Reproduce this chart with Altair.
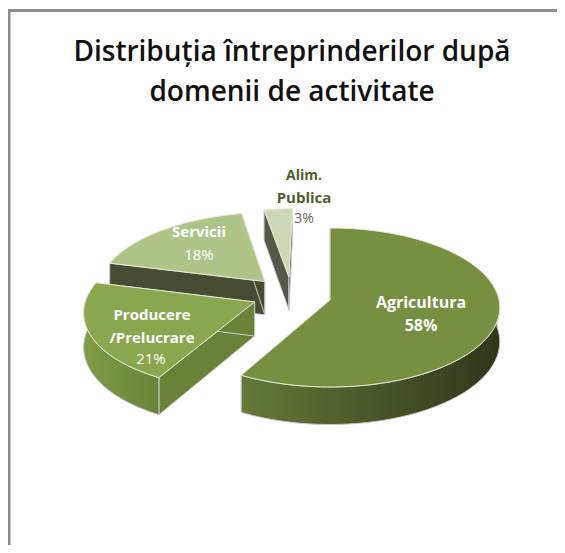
import math
import altair as alt
import pandas as pd

# values
categories = ["Agricultura", "Producere /Prelucrare", "Servicii", "Alim. Publica"]
shares = [58, 21, 18, 3]

# world offset of each exploded slice (in pie radii)
explode_u = [0.0, -0.445, -0.395, -0.25]
explode_v = [0.0, -0.025, 0.24, 0.30]

# colours
top_fill = ["#768f41", "#8aa74f", "#aec488", "#ccd8b5"]
wall_left = ["#65793a", "#7f9c46", "#454c30", "#55594a"]
wall_right = ["#2f361a", "#6a8238", "#454c30", "#55594a"]

# pie geometry in the picture
CX, CY, R, RE, K, H = 330, 300, 169, 78.8, 0.094, 34


def proj(u, v, down=0.0):
    s = 1 / (1 + K * v)
    return CX + R * u * s, CY - RE * v * s + down * s


def arc(a0, a1, ou, ov, down=0.0):
    n = max(4, int((a1 - a0) / 2))
    pts = []
    for i in range(n + 1):
        t = math.radians(a0 + (a1 - a0) * i / n)
        pts.append(proj(ou + math.sin(t), ov + math.cos(t), down))
    return pts


XS = alt.Scale(domain=[8, 557], range=[0, 549], nice=False, zero=False)
YS = alt.Scale(domain=[8, 545], range=[0, 537], nice=False, zero=False)


def poly(pts, fill, stroke=None, sw=0):
    df = pd.DataFrame({"x": [p[0] for p in pts], "y": [p[1] for p in pts], "i": range(len(pts))})
    kw = {"strokeWidth": sw, "stroke": stroke if stroke else "transparent"}
    return (
        alt.Chart(df)
        .mark_line(filled=True, fill=fill, interpolate="linear-closed", **kw)
        .encode(
            x=alt.X("x:Q", scale=XS, axis=None),
            y=alt.Y("y:Q", scale=YS, axis=None),
            order="i:Q",
        )
    )


def grad(c0, c1):
    return alt.Gradient(
        gradient="linear", x1=0, x2=1, y1=0, y2=0,
        stops=[alt.GradientStop(offset=0, color=c0), alt.GradientStop(offset=1, color=c1)],
    )


# slice angles from the shares
total = sum(shares)
angles = []
a = 0.0
for s in shares:
    angles.append((a, a + 360 * s / total))
    a += 360 * s / total

layers = []
# border
layers.append(
    alt.Chart(pd.DataFrame({"x": [9], "y": [10], "y2": [545]}))
    .mark_rule(color="#8c8c8c", strokeWidth=3)
    .encode(x=alt.X("x:Q", scale=XS, axis=None), y=alt.Y("y:Q", scale=YS, axis=None), y2="y2:Q")
)
layers.append(
    alt.Chart(pd.DataFrame({"x": [8], "x2": [557], "y": [10.5]}))
    .mark_rule(color="#8c8c8c", strokeWidth=3)
    .encode(x=alt.X("x:Q", scale=XS, axis=None), x2="x2:Q", y=alt.Y("y:Q", scale=YS, axis=None))
)

# back to front
for idx in [3, 2, 1, 0]:
    a0, a1 = angles[idx]
    ou, ov = explode_u[idx], explode_v[idx]
    top = arc(a0, a1, ou, ov)
    bot = arc(a0, a1, ou, ov, H)
    apex = proj(ou, ov)
    apex_b = proj(ou, ov, H)
    # radial walls
    layers.append(poly([apex, top[0], bot[0], apex_b], wall_right[idx], "#c8c8c8", 1))
    layers.append(poly([apex, top[-1], bot[-1], apex_b], wall_right[idx] if idx != 0 else wall_left[idx], "#c8c8c8", 1))
    # outer wall: only the part of the rim that faces the viewer
    w0, w1 = max(a0, 85), min(a1, 275)
    if w1 > w0:
        rim_t = arc(w0, w1, ou, ov)
        rim_b = arc(w0, w1, ou, ov, H)
        layers.append(poly(rim_t + rim_b[::-1], grad(wall_left[idx], wall_right[idx]), "#c8c8c8", 1))
    # top face
    layers.append(poly([apex] + top, top_fill[idx], "#e6ecd9", 1))

# labels
label_text = ["Distribuția întreprinderilor după", "domenii de activitate",
              "Agricultura", "58%", "Producere", "/Prelucrare", "21%",
              "Servicii", "18%", "Alim.", "Publica", "3%"]
label_x = [292, 292, 421, 421, 152, 152, 151, 199, 199, 304, 304, 304]
label_y = [53, 93, 303, 326, 315, 338, 359, 232, 255, 176, 198, 219]
label_size = [28, 28, 16, 16, 15, 15, 15, 15, 15, 14, 15, 14]
label_weight = [600, 600, 700, 700, 700, 700, 400, 700, 400, 700, 700, 400]
label_color = ["#111111", "#111111", "#ffffff", "#ffffff", "#ffffff", "#ffffff", "#ffffff",
               "#ffffff", "#ffffff", "#4f5f2a", "#4f5f2a", "#5f6a45"]

for t, x, y, sz, w, c in zip(label_text, label_x, label_y, label_size, label_weight, label_color):
    layers.append(
        alt.Chart(pd.DataFrame({"x": [x], "y": [y], "t": [t]}))
        .mark_text(font="Open Sans", fontSize=sz, fontWeight=w, color=c, align="center", baseline="middle")
        .encode(x=alt.X("x:Q", scale=XS, axis=None), y=alt.Y("y:Q", scale=YS, axis=None), text="t:N")
    )

chart = (
    alt.layer(*layers)
    .properties(width=549, height=537, padding=0, autosize=alt.AutoSizeParams(type="none"),
                background="#ffffff", view=alt.ViewConfig(stroke=None))
)
chart.save("out.html", embed_options={"renderer": "svg", "actions": False})
